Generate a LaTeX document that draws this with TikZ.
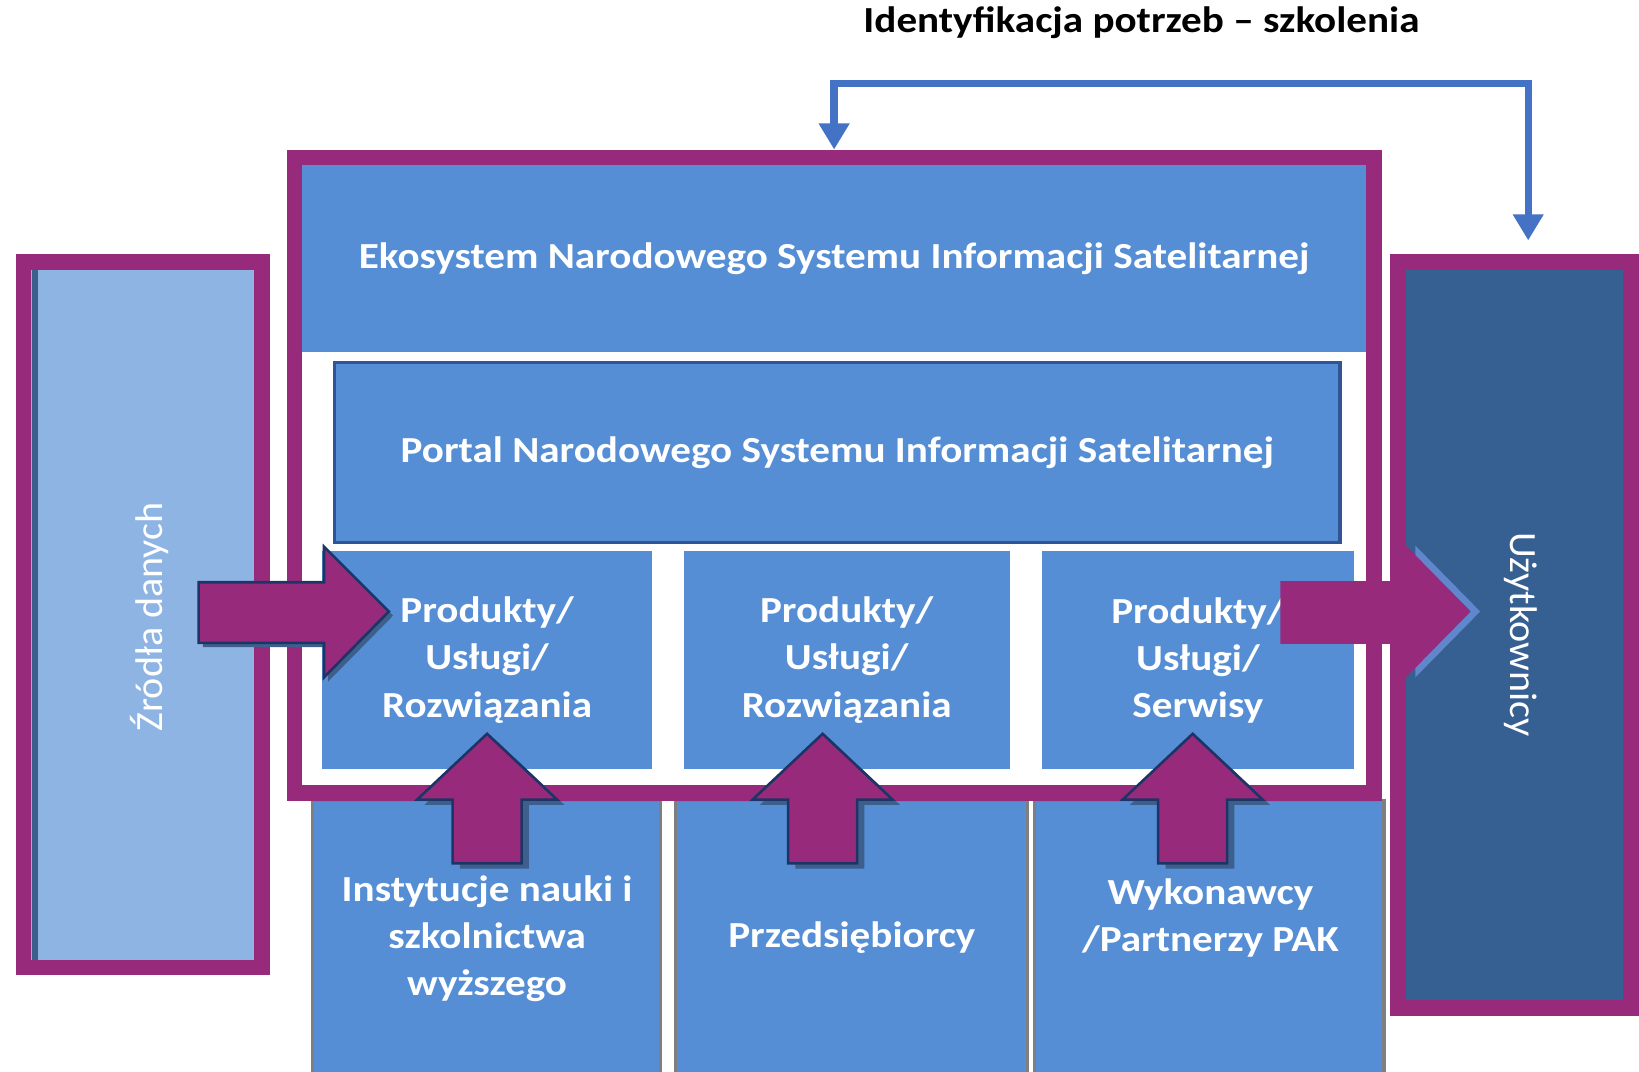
\documentclass[tikz,border=0pt]{standalone}
\usepackage{fontspec}
\setmainfont{Carlito}
\usepackage{tikz}
\usetikzlibrary{positioning}
\usetikzlibrary{arrows.meta}
\usepackage{xcolor}
\definecolor{nsisblue}{HTML}{558ED5}
\definecolor{plum}{HTML}{982A7C}
\definecolor{lightsrc}{HTML}{8EB4E3}
\definecolor{userblue}{HTML}{376092}
\definecolor{navy}{HTML}{1F3466}
\definecolor{slate}{HTML}{3C5F8C}
\definecolor{fbblue}{HTML}{4472C4}
\definecolor{portalline}{HTML}{2F5597}
\definecolor{gray50}{HTML}{7F7F7F}
\newcommand{\nsisfont}{\fontsize{20}{25.6}\selectfont\bfseries\addfontfeatures{FakeStretch=1.12}}
\newcommand{\sidefont}{\fontsize{21}{25}\selectfont\addfontfeatures{FakeStretch=1.04}}

\begin{document}
\begin{tikzpicture}[x=0.02cm, y=-0.02cm]
      \tikzstyle{box}=[rectangle, fill=nsisblue, text=white, font=\nsisfont, align=center, inner sep=0pt]
      \tikzstyle{frame}=[rectangle, draw=plum, line width=0.3cm, inner sep=0pt]
      \tikzstyle{lower}=[rectangle, fill=nsisblue, draw=gray50, line width=0.06cm]
      \tikzstyle{lowertext}=[text=white, font=\nsisfont, align=center]
      \tikzstyle{sidetext}=[text=white, font=\sidefont]
      \tikzstyle{bigarrow}=[fill=plum, draw=navy, line width=0.05cm, line join=miter]
      \tikzstyle{arrowshadow}=[fill=slate]
      \tikzstyle{feedback}=[draw=fbblue, line width=0.14cm, >={Triangle[width=0.56cm, length=0.5cm]}, <->]

      \useasboundingbox (0,0) rectangle (1568,1025);

      \node[font=\nsisfont] (fbtitle) at (1092,22) {Identyfikacja potrzeb – szkolenia};

      % side boxes
      \node[frame, fill=lightsrc, minimum width=4.56cm, minimum height=13.5cm] (sources) at (136.5,588) {};
      \draw[slate, line width=0.1cm] ([xshift=0.37cm, yshift=-0.3cm]sources.north west) -- ([xshift=0.37cm, yshift=0.3cm]sources.south west);
      \node[frame, fill=userblue, minimum width=4.46cm, minimum height=14.28cm] (users) at (1449,607.5) {};

      % bottom boxes
      \node[lower, minimum width=6.66cm, minimum height=5.38cm] (science) at (465.5,900.5) {};
      \node[lower, minimum width=6.74cm, minimum height=5.38cm] (business) at (814.5,900.5) {};
      \node[lower, minimum width=6.68cm, minimum height=5.38cm] (partners) at (1157,900.5) {};

      % NSIS frame
      \node[frame, fill=white, minimum width=20.66cm, minimum height=12.16cm] (nsis) at (798,454.5) {};
      \node[box, minimum width=20.36cm, minimum height=3.58cm] (eco) at (798,247.5) {Ekosystem Narodowego Systemu Informacji Satelitarnej};
      \node[box, draw=portalline, line width=0.06cm, minimum width=19.24cm, minimum height=3.44cm] (portal) at (801,433) {Portal Narodowego Systemu Informacji Satelitarnej};

      \node[box, minimum width=6.32cm, minimum height=4.18cm] (prod1) at (466,631.5) {Produkty/\\Usługi/\\Rozwiązania};
      \node[box, minimum width=6.24cm, minimum height=4.18cm] (prod2) at (810,631.5) {Produkty/\\Usługi/\\Rozwiązania};
      \node[box, minimum width=5.96cm, minimum height=4.18cm] (prod3) at (1146,631.5) {Produkty/\\Usługi/\\Serwisy};

      % block arrows
      \foreach \cx in {466, 787, 1141} {
        \fill[arrowshadow, shift={(7,5)}] (\cx,702) -- (\cx+67,765) -- (\cx+33,765) -- (\cx+33,826) -- (\cx-33,826) -- (\cx-33,765) -- (\cx-67,765) -- cycle;
        \draw[bigarrow] (\cx,702) -- (\cx+67,765) -- (\cx+33,765) -- (\cx+33,826) -- (\cx-33,826) -- (\cx-33,765) -- (\cx-67,765) -- cycle;
      }
      \fill[arrowshadow, shift={(4,4)}] (190,557) -- (310,557) -- (310,523) -- (372,585) -- (310,648) -- (310,615) -- (190,615) -- cycle;
      \draw[bigarrow] (190,557) -- (310,557) -- (310,523) -- (372,585) -- (310,648) -- (310,615) -- (190,615) -- cycle;
      \fill[fbblue!85!white, shift={(9,0)}] (1345,522) -- (1407,585) -- (1345,648) -- cycle;
      \fill[plum] (1225,556) -- (1345,556) -- (1345,522) -- (1407,585) -- (1345,648) -- (1345,616) -- (1225,616) -- cycle;

      % labels
      \node[sidetext, rotate=90] (srclabel) at (143,590) {Źródła danych};
      \node[sidetext, rotate=-90] (userlabel) at (1455,607) {Użytkownicy};
      \node[lowertext] (sciencetext) at (466,898) {Instytucje nauki i\\szkolnictwa\\wyższego};
      \node[lowertext] (businesstext) at (815,897) {Przedsiębiorcy};
      \node[lowertext] (partnerstext) at (1158,878) {Wykonawcy\\/Partnerzy PAK};

      % feedback loop
      \coordinate (fbend) at (1462,230);
      \draw[feedback] (nsis.north) |- (1462,80) -- (fbend);
\end{tikzpicture}
\end{document}
